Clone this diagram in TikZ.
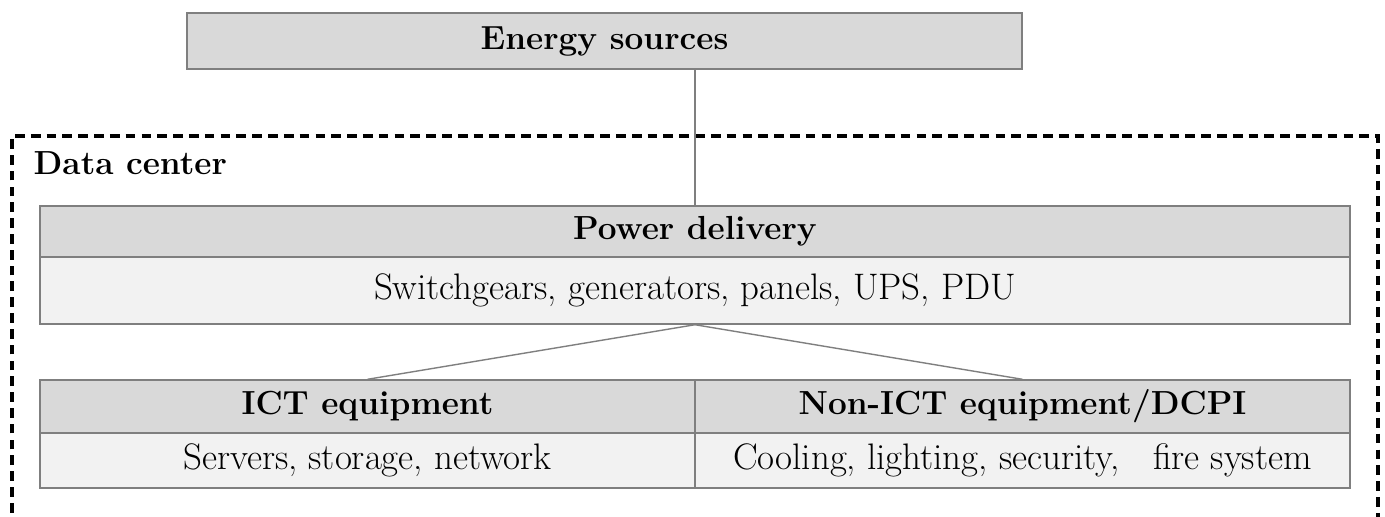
\documentclass[tikz,border=0pt]{standalone}
\definecolor{headgray}{HTML}{D9D9D9}
\definecolor{bodygray}{HTML}{F2F2F2}
\definecolor{edgegray}{HTML}{7F7F7F}
\tikzset{
	headbox/.style={draw=edgegray, fill=headgray, line width=0.8pt, inner sep=0pt, font=\fontsize{19}{22}\selectfont\bfseries},
	bodybox/.style={draw=edgegray, fill=bodygray, line width=0.8pt, inner sep=0pt, font=\fontsize{21}{24}\selectfont},
	link/.style={draw=edgegray, line width=0.8pt}
}
\begin{document}
\begin{tikzpicture}

		\useasboundingbox (0, 0) rectangle (27.7, -10.32);

		\draw[line width=1.8pt, dash pattern=on 5.5pt off 3.5pt] (0.24, -11.2) -- (0.24, -2.72) -- (27.56, -2.72) -- (27.56, -11.2);
		\node[anchor=west, font=\fontsize{19}{22}\selectfont\bfseries] (dc) at (0.55, -3.26) {Data center};

		\node[headbox, minimum width=16.7cm, minimum height=1.12cm] (energy) at (12.09, -0.82) {Energy sources};

		\node[headbox, minimum width=26.2cm, minimum height=1.02cm] (power) at (13.9, -4.63) {Power delivery};
		\node[bodybox, minimum width=26.2cm, minimum height=1.34cm] (powerbody) at (13.9, -5.81) {Switchgears, generators, panels, UPS, PDU};

		\node[headbox, minimum width=13.1cm, minimum height=1.06cm] (ict) at (7.35, -8.13) {ICT equipment};
		\node[bodybox, minimum width=13.1cm, minimum height=1.1cm] (ictbody) at (7.35, -9.21) {Servers, storage, network};

		\node[headbox, minimum width=13.1cm, minimum height=1.06cm] (nonict) at (20.45, -8.13) {Non-ICT equipment/DCPI};
		\node[bodybox, minimum width=13.1cm, minimum height=1.1cm] (nonictbody) at (20.45, -9.21) {Cooling, lighting, security,\ \ \ fire system};

		\draw[link] (energy.south -| power.north) -- (power.north);
		\draw[link] (powerbody.south) -- (ict.north);
		\draw[link] (powerbody.south) -- (nonict.north);

	\end{tikzpicture}
\end{document}
